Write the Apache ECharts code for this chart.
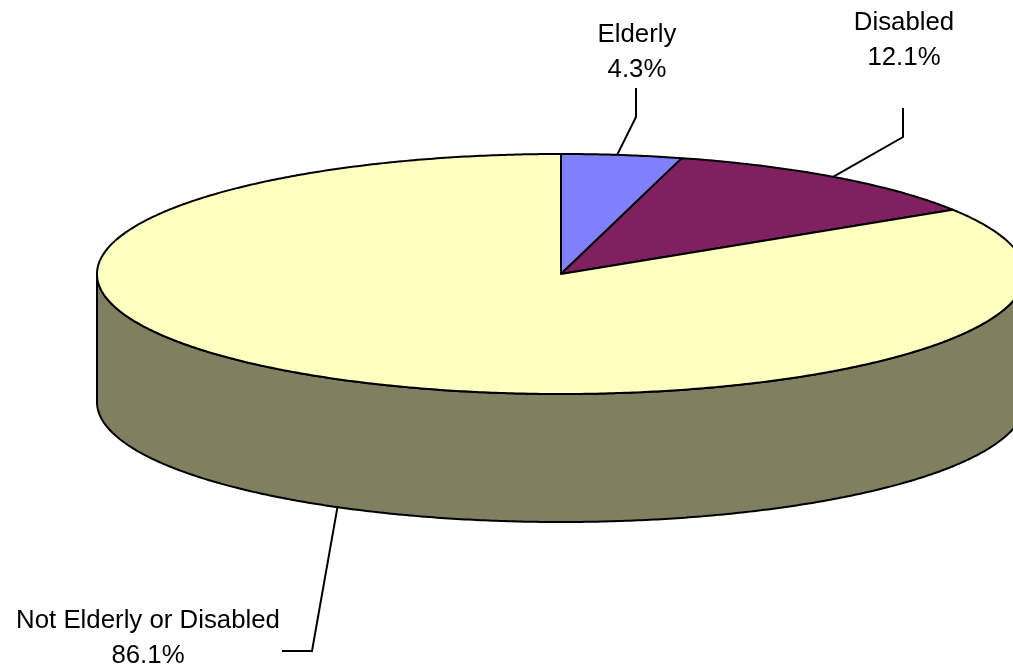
<!DOCTYPE html>
<html>
<head>
<meta charset="utf-8">
<style>html,body{margin:0;padding:0;background:#fff}#c{width:1013px;height:669px}</style>
<script src="https://cdn.jsdelivr.net/npm/echarts@6/dist/echarts.min.js"></script>
</head>
<body>
<div id="c"></div>
<script>
// Data as printed on the chart (the printed shares sum to 102.5; slices are proportional to them)
const categories = ['Elderly', 'Disabled', 'Not Elderly or Disabled'];
const shares = [4.3, 12.1, 86.1];
const topColors = ['#8080FF', '#802060', '#FFFFC0'];
const wallColors = ['#404080', '#401030', '#808060'];
// Label layout: text centre, elbow and free end of each leader line
const labelCentres = [[637, 52], [904, 40], [148, 638]];
const leaderElbows = [[636, 117], [903, 137], [312, 651]];
const leaderEnds = [[636, 88], [903, 108], [282, 651]];
const leaderAngleNudge = [-0.6, -0.45, 0];

const CX = 561, CY = 274, RX = 464, RY = 120, DEPTH = 128;
const total = shares.reduce((a, b) => a + b, 0);

function pt(deg, dy) {
  const r = deg * Math.PI / 180;
  return [CX + RX * Math.sin(r), CY - RY * Math.cos(r) + (dy || 0)];
}
function arc(a0, a1, dy) {
  const out = [], n = Math.max(2, Math.ceil(Math.abs(a1 - a0) / 0.5));
  for (let i = 0; i <= n; i++) out.push(pt(a0 + (a1 - a0) * i / n, dy));
  return out;
}

const chart = echarts.init(document.getElementById('c'), null, { renderer: 'canvas' });
const line = { stroke: '#000', lineWidth: 2, lineJoin: 'round', lineCap: 'butt' };

function renderItem(params, api) {
  const i = params.dataIndex;
  const before = shares.slice(0, i).reduce((a, b) => a + b, 0);
  const a0 = before / total * 360;
  const a1 = (before + api.value(1)) / total * 360;
  const mid = (a0 + a1) / 2;
  const children = [];

  // the visible side wall is the front half of the rim, 90 to 270 degrees
  const w0 = Math.max(a0, 90), w1 = Math.min(a1, 270);
  if (w1 > w0) {
    children.push({
      type: 'polygon',
      shape: { points: arc(w0, w1, 0).concat(arc(w1, w0, DEPTH)) },
      style: Object.assign({ fill: wallColors[i] }, line)
    });
  }
  children.push({
    type: 'polygon',
    shape: { points: [[CX, CY]].concat(arc(a0, a1, 0)) },
    style: Object.assign({ fill: topColors[i] }, line)
  });

  // leader line starts on the rim at the slice's middle angle
  const onWall = mid > 90 && mid < 270;
  children.push({
    type: 'polyline',
    shape: { points: [pt(mid + leaderAngleNudge[i], onWall ? DEPTH : 0), leaderElbows[i], leaderEnds[i]] },
    style: { stroke: '#000', lineWidth: 2, fill: null }
  });
  children.push({
    type: 'text',
    style: {
      text: categories[i] + '\n' + api.value(1).toFixed(1) + '%',
      x: labelCentres[i][0],
      y: labelCentres[i][1],
      align: 'center',
      verticalAlign: 'middle',
      font: '25.8px "Liberation Sans", Arial, sans-serif',
      lineHeight: 35,
      fill: '#000'
    }
  });
  return { type: 'group', children };
}

chart.setOption({
  animation: false,
  backgroundColor: '#fff',
  tooltip: { show: false },
  series: [{
    type: 'custom',
    coordinateSystem: 'none',
    silent: true,
    renderItem,
    data: shares.map((v, i) => [i, v])
  }]
});
</script>
</body>
</html>
